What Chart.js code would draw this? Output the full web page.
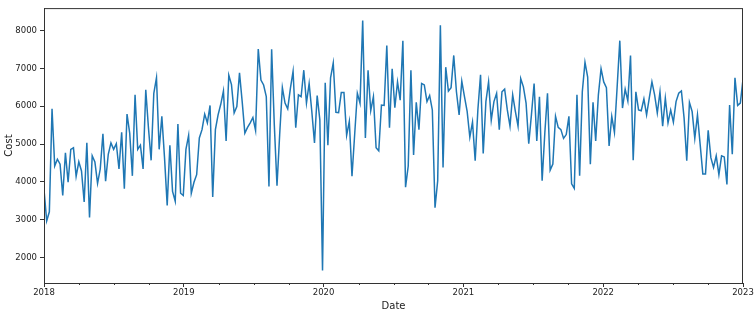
<!DOCTYPE html>
<html>
<head>
<meta charset="utf-8">
<script src="https://cdn.jsdelivr.net/npm/chart.js@4/dist/chart.umd.min.js"></script>
<style>
  html, body { margin: 0; padding: 0; background: #fff; }
</style>
</head>
<body>
<canvas id="myLine" width="756" height="313"></canvas>
<script>
// tick labels
const yearTicks = [2018, 2019, 2020, 2021, 2022, 2023];
const costTicks = [2000, 3000, 4000, 5000, 6000, 7000, 8000];

// weekly cost
const cost = [
  3800, 2970, 3210, 5930, 4420, 4600, 4470, 3640, 4770, 3990, 4860, 4900, 4150, 4530, 4290, 3470,
  5030, 3060, 4690, 4530, 3960, 4340, 5270, 4020, 4730, 5030, 4860, 5010, 4340, 5310, 3820, 5790,
  5290, 4160, 6300, 4860, 4970, 4340, 6430, 5430, 4570, 6340, 6750, 4860, 5730,
  4640, 3380, 4970, 3750, 3490, 5530, 3700, 3640, 4860, 5230, 3700, 3990, 4190, 5160, 5380, 5790,
  5560, 6020, 3600, 5380, 5770, 6050, 6400, 5080, 6820, 6570, 5820, 5990, 6880, 6120, 5290, 5440,
  5560, 5700, 5360, 7510, 6690, 6560, 6250, 3880, 7500,
  5500, 3900, 5250, 6490, 6080, 5930, 6470, 6920, 5430, 6300, 6250, 6950, 6080, 6600, 5860, 5030,
  6280, 5640, 1660, 6620, 4970, 6750, 7140, 5840, 5830, 6360, 6360, 5230, 5600, 4150, 5250, 6340,
  6080, 8260, 5160, 6950, 5880, 6250, 4900, 4820, 6030, 6020, 7600,
  5430, 6990, 5960, 6640, 6160, 7730, 3860, 4420, 6950, 4710, 6100, 5380, 6600, 6560, 6120, 6280,
  5900, 3320, 4030, 8140, 4380, 7030, 6400, 6490, 7340, 6380, 5770, 6660, 6250, 5860, 5180, 5580,
  4560, 5900, 6830, 4750, 6120, 6640, 5630, 6120, 6340, 5380, 6380, 6450,
  5900, 5470, 6300, 5860, 5470, 6730, 6510, 6080, 5010, 5770, 6600, 5080, 6250, 4030, 5290, 6340,
  4310, 4470, 5730, 5440, 5380, 5150, 5250, 5730, 3950, 3830, 6300, 4160, 6380, 7160, 6770, 4470,
  6100, 5080, 6300, 6990, 6640, 6490, 4950, 5730, 5310, 6500, 7730,
  5950, 6450, 6140, 7340, 4570, 6380, 5900, 5880, 6190, 5770, 6210, 6640, 6300, 5820, 6380, 5470,
  6210, 5560, 5900, 5580, 6120, 6340, 6400, 5690, 4560, 6100, 5860, 5150, 5770, 4990, 4210, 4210,
  5360, 4640, 4380, 4690, 4190, 4690, 4660, 3930, 6030, 4730, 6750, 6020, 6080, 6710
];

// dates as fractional years, spread over 2018..2023
const dates = cost.map((_, i) => 2018 + 5 * i / (cost.length - 1));

const font = { family: 'DejaVu Sans', size: 8.5 };
const titleFont = { family: 'DejaVu Sans', size: 10 };

// top/right spines and quarterly minor ticks like matplotlib
const framePlugin = {
  id: 'frame',
  afterDraw(chart) {
    const { ctx, chartArea, scales } = chart;
    ctx.save();
    ctx.strokeStyle = '#333';
    ctx.lineWidth = 1;
    ctx.strokeRect(chartArea.left + 0.5, chartArea.top + 0.5,
      chartArea.right - chartArea.left - 1, chartArea.bottom - chartArea.top);
    ctx.beginPath();
    for (let y = 2018; y < 2023; y++) {
      for (let q = 1; q < 4; q++) {
        const px = Math.round(scales.x.getPixelForValue(y + q / 4)) + 0.5;
        ctx.moveTo(px, chartArea.bottom);
        ctx.lineTo(px, chartArea.bottom + 2);
      }
    }
    ctx.stroke();
    ctx.restore();
  },
};

const line = document.getElementById('myLine').getContext('2d');
const myChart = new Chart(line, {
  type: 'line',
  data: {
    datasets: [
      {
        label: 'Cost',
        data: dates.map((d, i) => ({ x: d, y: cost[i] })),
        borderColor: '#1f77b4',
        borderWidth: 1.5,
        pointRadius: 0,
        tension: 0,
        fill: false,
      },
    ],
  },
  options: {
    responsive: false,
    animation: false,
    devicePixelRatio: 1,
    layout: { padding: { top: 5, right: 13, left: 0, bottom: 0 } },
    plugins: { legend: { display: false }, tooltip: { enabled: false } },
    scales: {
      x: {
        type: 'linear',
        min: 2018,
        max: 2023,
        afterBuildTicks: (scale) => { scale.ticks = yearTicks.map((v) => ({ value: v })); },
        afterFit: (scale) => { scale.height = 30; },
        ticks: {
          font,
          color: '#222',
          padding: 1,
          maxRotation: 0,
          callback: (v) => String(v),
        },
        grid: { drawOnChartArea: false, drawTicks: true, tickLength: 4, color: '#333' },
        border: { display: true, color: '#333', width: 1 },
        title: { display: true, text: 'Date', font: titleFont, color: '#222', padding: { top: 0, bottom: 1 } },
      },
      y: {
        min: 1330,
        max: 8590,
        afterBuildTicks: (scale) => { scale.ticks = costTicks.map((v) => ({ value: v })); },
        afterFit: (scale) => { scale.width = 44; },
        ticks: {
          font,
          color: '#222',
          padding: 3,
          callback: (v) => String(v),
        },
        grid: { drawOnChartArea: false, drawTicks: true, tickLength: 4, color: '#333' },
        border: { display: true, color: '#333', width: 1 },
        title: { display: true, text: 'Cost', font: titleFont, color: '#222', padding: { top: 3, bottom: 3 } },
      },
    },
  },
  plugins: [framePlugin],
});
</script>
</body>
</html>
